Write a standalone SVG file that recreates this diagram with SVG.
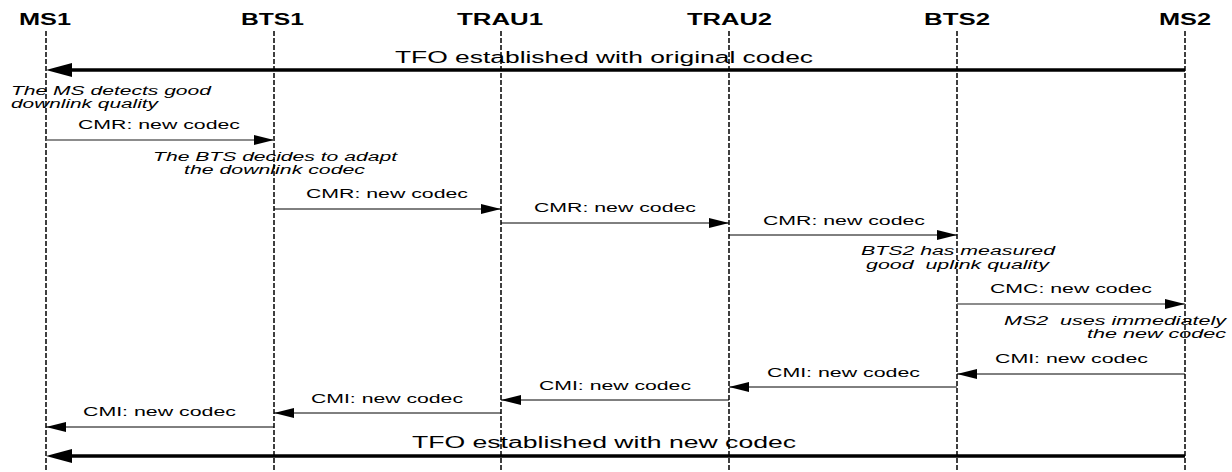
<svg xmlns="http://www.w3.org/2000/svg" width="1232" height="472" viewBox="0 0 1232 472">
<style>
text{font-family:"Liberation Sans",Arial,Helvetica,sans-serif;fill:#000}
.hdr{font-size:16px;font-weight:bold}
.tfo{font-size:16px}
.lbl{font-size:12.5px}
.note{font-size:12px;font-style:italic}
.life{stroke:#000;stroke-width:1.5;stroke-dasharray:5,2;fill:none}
.msg{stroke:#000;stroke-width:1;fill:none;marker-end:url(#ah)}
.msgg{stroke:#666;stroke-width:1.6;fill:none;marker-end:url(#ah)}
.thick{stroke:#000;stroke-width:3.6;fill:none;marker-end:url(#ahb)}
</style>
<defs>
<marker id="ah" markerUnits="userSpaceOnUse" viewBox="0 0 20 10" refX="20" refY="5" markerWidth="20" markerHeight="10" orient="auto">
<path d="M0,0 L20,5 L0,10 Z" fill="#000"/>
</marker>
<marker id="ahb" markerUnits="userSpaceOnUse" viewBox="0 0 26 14" refX="16" refY="7" markerWidth="26" markerHeight="14" orient="auto">
<path d="M0,0 L26,7 L0,14 Z" fill="#000"/>
</marker>
</defs>
<rect width="1232" height="472" fill="#fff"/>
<g id="MS1">
<text class="hdr" x="19" y="25" textLength="52" lengthAdjust="spacingAndGlyphs">MS1</text>
<line class="life" x1="46" y1="31" x2="46" y2="472"/>
</g>
<g id="BTS1">
<text class="hdr" x="241" y="25" textLength="63" lengthAdjust="spacingAndGlyphs">BTS1</text>
<line class="life" x1="274" y1="31" x2="274" y2="472"/>
</g>
<g id="TRAU1">
<text class="hdr" x="457" y="25" textLength="86" lengthAdjust="spacingAndGlyphs">TRAU1</text>
<line class="life" x1="501" y1="31" x2="501" y2="472"/>
</g>
<g id="TRAU2">
<text class="hdr" x="687" y="25" textLength="85" lengthAdjust="spacingAndGlyphs">TRAU2</text>
<line class="life" x1="729" y1="31" x2="729" y2="472"/>
</g>
<g id="BTS2">
<text class="hdr" x="924" y="25" textLength="66" lengthAdjust="spacingAndGlyphs">BTS2</text>
<line class="life" x1="957" y1="31" x2="957" y2="472"/>
</g>
<g id="MS2">
<text class="hdr" x="1159" y="25" textLength="52" lengthAdjust="spacingAndGlyphs">MS2</text>
<line class="life" x1="1185" y1="31" x2="1185" y2="472"/>
</g>
<g id="notes">
<text class="note" x="11" y="95" textLength="200" lengthAdjust="spacingAndGlyphs">The MS detects good</text>
<text class="note" x="11" y="108" textLength="147" lengthAdjust="spacingAndGlyphs">downlink quality</text>
<text class="note" x="153" y="161" textLength="244" lengthAdjust="spacingAndGlyphs">The BTS decides to adapt</text>
<text class="note" x="184" y="174" textLength="181" lengthAdjust="spacingAndGlyphs">the downlink codec</text>
<text class="note" x="861" y="255" textLength="194" lengthAdjust="spacingAndGlyphs">BTS2 has measured</text>
<text class="note" x="866" y="269" textLength="183" lengthAdjust="spacingAndGlyphs" xml:space="preserve">good  uplink quality</text>
<text class="note" x="1004" y="325" textLength="222" lengthAdjust="spacingAndGlyphs" xml:space="preserve">MS2  uses immediately</text>
<text class="note" x="1087" y="338" textLength="139" lengthAdjust="spacingAndGlyphs">the new codec</text>
</g>
<g id="connectors">
<line class="thick" x1="1185" y1="70" x2="56" y2="70"/>
<text class="tfo" x="395" y="63" textLength="418" lengthAdjust="spacingAndGlyphs">TFO established with original codec</text>
<line class="msgg" x1="46" y1="140" x2="274" y2="140"/>
<text class="lbl" x="78" y="129" textLength="162" lengthAdjust="spacingAndGlyphs">CMR: new codec</text>
<line class="msg" x1="274" y1="209" x2="501" y2="209"/>
<text class="lbl" x="306" y="198" textLength="162" lengthAdjust="spacingAndGlyphs">CMR: new codec</text>
<line class="msg" x1="501" y1="223" x2="729" y2="223"/>
<text class="lbl" x="534" y="212" textLength="162" lengthAdjust="spacingAndGlyphs">CMR: new codec</text>
<line class="msg" x1="729" y1="235" x2="957" y2="235"/>
<text class="lbl" x="763" y="225" textLength="162" lengthAdjust="spacingAndGlyphs">CMR: new codec</text>
<line class="msgg" x1="957" y1="304" x2="1185" y2="304"/>
<text class="lbl" x="990" y="293" textLength="162" lengthAdjust="spacingAndGlyphs">CMC: new codec</text>
<line class="msg" x1="1185" y1="374" x2="957" y2="374"/>
<text class="lbl" x="995" y="363" textLength="153" lengthAdjust="spacingAndGlyphs">CMI: new codec</text>
<line class="msg" x1="957" y1="387" x2="729" y2="387"/>
<text class="lbl" x="767" y="377" textLength="153" lengthAdjust="spacingAndGlyphs">CMI: new codec</text>
<line class="msg" x1="729" y1="400" x2="501" y2="400"/>
<text class="lbl" x="539" y="390" textLength="152" lengthAdjust="spacingAndGlyphs">CMI: new codec</text>
<line class="msg" x1="501" y1="413" x2="274" y2="413"/>
<text class="lbl" x="311" y="403" textLength="152" lengthAdjust="spacingAndGlyphs">CMI: new codec</text>
<line class="msg" x1="274" y1="427" x2="46" y2="427"/>
<text class="lbl" x="83" y="416" textLength="153" lengthAdjust="spacingAndGlyphs">CMI: new codec</text>
<line class="thick" x1="1185" y1="456" x2="56" y2="456"/>
<text class="tfo" x="412" y="448" textLength="384" lengthAdjust="spacingAndGlyphs">TFO established with new codec</text>
</g>
</svg>
